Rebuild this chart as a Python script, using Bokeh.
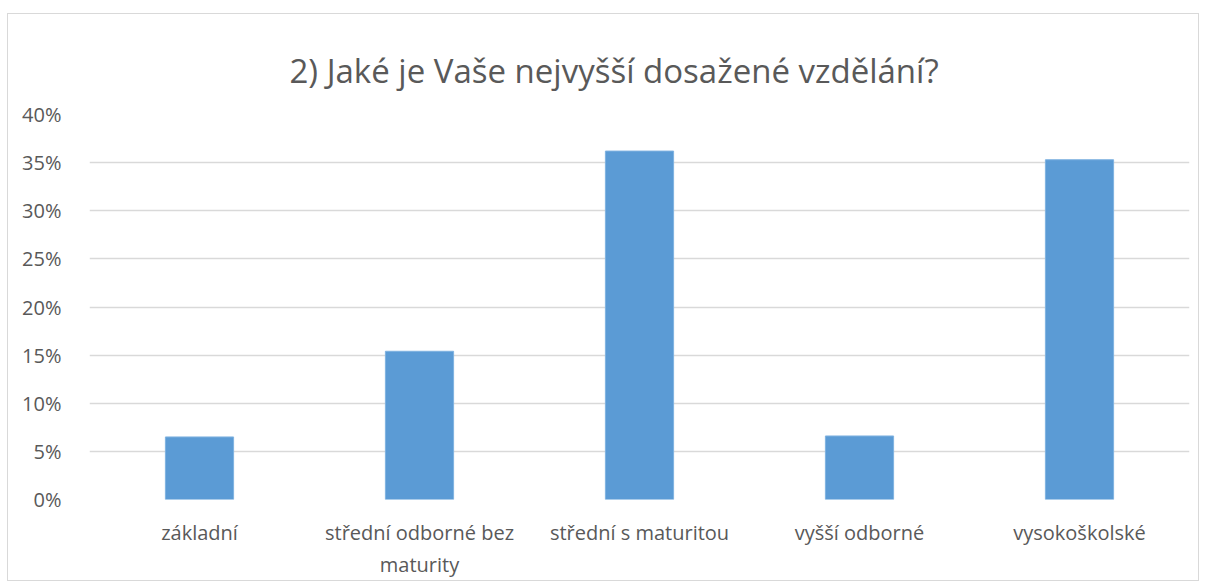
from bokeh.plotting import figure
from bokeh.models import Range1d, FactorRange, NumeralTickFormatter, FixedTicker
from bokeh.embed import file_html
from bokeh.resources import INLINE

categories = ["základní", "střední odborné bez maturity", "střední s maturitou", "vyšší odborné", "vysokoškolské"]
values_pct = [6.5, 15.4, 36.2, 6.6, 35.3]
y_ticks_pct = [0, 5, 10, 15, 20, 25, 30, 35, 40]
title_text = "2) Jaké je Vaše nejvyšší dosažené vzdělání?"

# axis display: wrap the long category onto two lines
factors = [c.replace("bez maturity", "bez\nmaturity") for c in categories]
values = [v / 100 for v in values_pct]

p = figure(
    x_range=FactorRange(*factors, range_padding=0),
    y_range=Range1d(0, y_ticks_pct[-1] / 100),
    width=1190, height=566,
    frame_width=1100, frame_height=385,
    min_border_left=81, min_border_right=9, min_border_top=100, min_border_bottom=81,
    output_backend="svg", toolbar_location=None,
    title=title_text,
)
p.styles = {"border": "1px solid #d9d9d9", "margin-top": "13px", "margin-left": "7px"}
p.title.align = "left"
p.title.vertical_align = "top"
p.title.text_font = "Open Sans"
p.title.text_font_style = "normal"
p.title.text_font_size = "33px"
p.title.text_color = "#595959"
p.title.offset = 200
p.title.standoff = 40

p.vbar(x=factors, top=values, width=0.31, color="#5B9BD5", line_color="#7fb2e0", line_width=1)

p.outline_line_color = None
p.background_fill_color = "white"
p.border_fill_color = "white"

p.xgrid.grid_line_color = None
p.ygrid.grid_line_color = "#d9d9d9"
p.ygrid.grid_line_width = 1.5
p.yaxis.ticker = FixedTicker(ticks=[t / 100 for t in y_ticks_pct])
p.yaxis.formatter = NumeralTickFormatter(format="0%")

for ax in (p.xaxis, p.yaxis):
    ax.axis_line_color = None
    ax.major_tick_line_color = None
    ax.minor_tick_line_color = None
    ax.major_label_text_font = "Open Sans"
    ax.major_label_text_color = "#595959"
    ax.major_label_text_font_size = "20px"

p.yaxis.major_label_standoff = 22
p.xaxis.major_label_standoff = 13

open("out.html", "w").write(file_html(p, INLINE))
